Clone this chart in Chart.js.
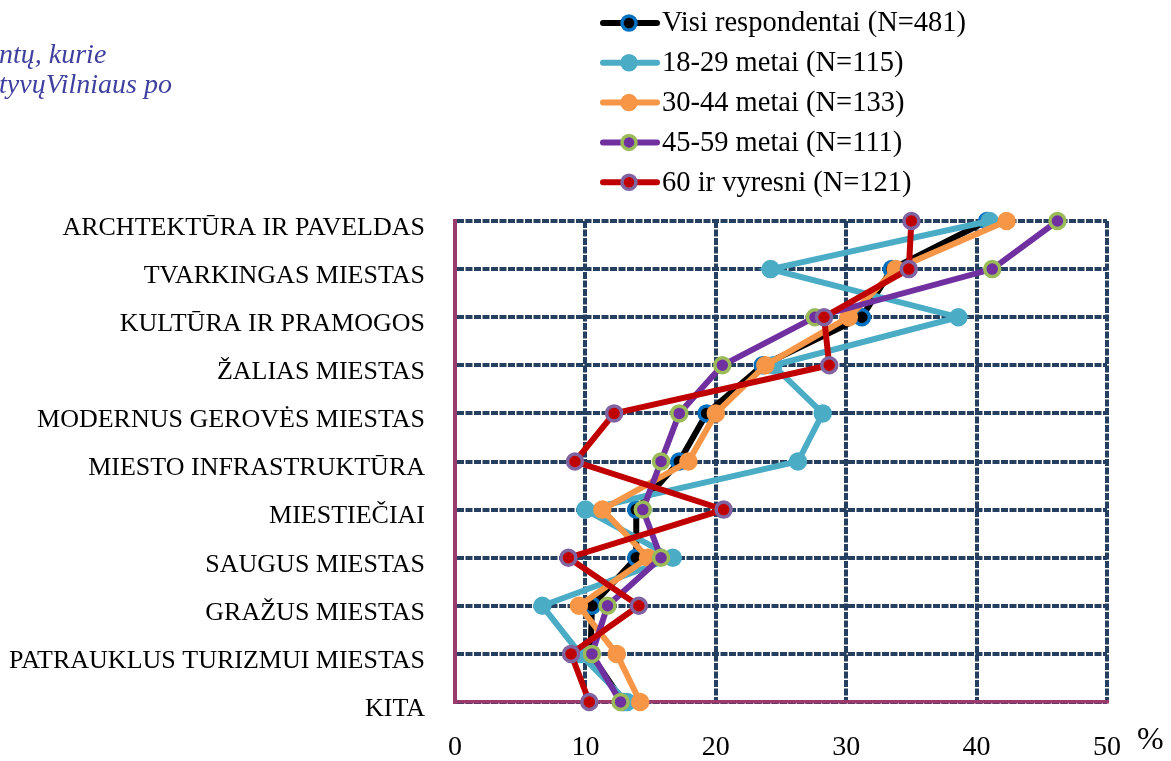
<!DOCTYPE html>
<html>
<head>
<meta charset="utf-8">
<script src="https://cdn.jsdelivr.net/npm/chart.js@4.4.1/dist/chart.umd.min.js"></script>
<style>
    html, body { margin: 0; padding: 0; background: #ffffff; }
    #wrap { width: 1171px; height: 761px; position: relative; overflow: hidden; }
</style>
</head>
<body>
<div id="wrap"><canvas id="chart" width="1171" height="761"></canvas></div>
<script>
// Categories (top to bottom)
const categories = [
    'ARCHTEKTŪRA IR PAVELDAS',
    'TVARKINGAS MIESTAS',
    'KULTŪRA IR PRAMOGOS',
    'ŽALIAS MIESTAS',
    'MODERNUS GEROVĖS MIESTAS',
    'MIESTO INFRASTRUKTŪRA',
    'MIESTIEČIAI',
    'SAUGUS MIESTAS',
    'GRAŽUS MIESTAS',
    'PATRAUKLUS TURIZMUI MIESTAS',
    'KITA'
];

// Series values (%)
const visi = [40.8, 33.5, 31.2, 23.6, 19.3, 17.2, 13.9, 13.9, 10.5, 10.4, 12.9];
const age18to29 = [41.0, 24.2, 38.6, 24.4, 28.2, 26.3, 10.0, 16.7, 6.7, 9.6, 13.2];
const age30to44 = [42.3, 33.8, 30.2, 23.8, 20.0, 17.9, 11.3, 14.8, 9.5, 12.4, 14.2];
const age45to59 = [46.2, 41.2, 27.6, 20.5, 17.2, 15.8, 14.4, 15.8, 11.7, 10.5, 12.7];
const age60plus = [35.0, 34.8, 28.3, 28.7, 12.2, 9.2, 20.6, 8.7, 14.1, 8.9, 10.3];

// Series labels
const seriesLabels = [
    'Visi respondentai (N=481)',
    '18-29 metai (N=115)',
    '30-44 metai (N=133)',
    '45-59 metai (N=111)',
    '60 ir vyresni (N=121)'
];

// X axis ticks
const xTicks = [0, 10, 20, 30, 40, 50];

const serif = '"Liberation Serif", "DejaVu Serif", serif';
Chart.defaults.font.family = serif;
Chart.defaults.color = '#000000';

function makeSet(label, data, line, fill, ring, order) {
    return {
        label: label,
        data: data,
        borderColor: line,
        backgroundColor: fill,
        borderWidth: 6,
        pointRadius: 7.5,
        pointHoverRadius: 7.5,
        pointBackgroundColor: fill,
        pointBorderColor: ring,
        pointBorderWidth: 3.5,
        tension: 0,
        clip: false,
        order: order
    };
}

const datasets = [
    makeSet(seriesLabels[0], visi, '#000000', '#000000', '#0070C0', 5),
    makeSet(seriesLabels[1], age18to29, '#4BACC6', '#4BACC6', '#4BACC6', 4),
    makeSet(seriesLabels[2], age30to44, '#F79646', '#F79646', '#F79646', 3),
    makeSet(seriesLabels[3], age45to59, '#7030A0', '#7030A0', '#9BBB59', 2),
    makeSet(seriesLabels[4], age60plus, '#C00000', '#C00000', '#8064A2', 1)
];

// Custom legend, "%" unit and the cut-off heading text
const extras = {
    id: 'extras',
    afterDraw(chart) {
        const ctx = chart.ctx;
        ctx.save();

        // legend
        ctx.font = '28.5px ' + serif;
        ctx.textBaseline = 'middle';
        chart.data.datasets.forEach((ds, i) => {
            const y = 23 + i * 39.8;
            ctx.beginPath();
            ctx.moveTo(603, y);
            ctx.lineTo(657, y);
            ctx.strokeStyle = ds.borderColor;
            ctx.lineWidth = 6;
            ctx.lineCap = 'round';
            ctx.stroke();
            ctx.beginPath();
            ctx.arc(629, y, 7, 0, Math.PI * 2);
            ctx.fillStyle = ds.pointBackgroundColor;
            ctx.fill();
            ctx.lineWidth = 3.5;
            ctx.strokeStyle = ds.pointBorderColor;
            ctx.stroke();
            ctx.fillStyle = '#000000';
            ctx.fillText(ds.label, 662, y + 1);
        });

        // unit
        ctx.font = '32px ' + serif;
        ctx.textAlign = 'left';
        ctx.fillText('%', 1137, 741);

        // heading fragment at the left edge
        ctx.font = 'italic 28px ' + serif;
        ctx.fillStyle = '#3F3FA0';
        ctx.textBaseline = 'alphabetic';
        ctx.fillText('ntų, kurie', -1, 63);
        ctx.fillText('tyvųVilniaus po', -1, 93);
        ctx.restore();
    }
};

new Chart(document.getElementById('chart'), {
    type: 'line',
    data: {
        labels: categories,
        datasets: datasets
    },
    options: {
        indexAxis: 'y',
        responsive: false,
        animation: false,
        devicePixelRatio: 1,
        layout: {
            padding: { left: 0, top: 221, right: 64, bottom: 0 }
        },
        plugins: {
            legend: { display: false },
            tooltip: { enabled: false }
        },
        scales: {
            x: {
                type: 'linear',
                min: 0,
                max: 50,
                afterBuildTicks: function(scale) {
                    scale.ticks = xTicks.map(v => ({ value: v }));
                },
                afterFit: function(scale) {
                    scale.height = 59;
                },
                grid: {
                    color: '#243F60',
                    lineWidth: 4,
                    drawTicks: false
                },
                border: {
                    display: true,
                    color: '#9B3A6C',
                    width: 3.5,
                    dash: [7, 1.5]
                },
                ticks: {
                    padding: 29,
                    font: { size: 28 },
                    color: '#000000'
                }
            },
            y: {
                type: 'category',
                offset: false,
                afterFit: function(scale) {
                    scale.width = 455;
                },
                grid: {
                    color: '#243F60',
                    lineWidth: 4,
                    drawTicks: false
                },
                border: {
                    display: true,
                    color: '#9B3A6C',
                    width: 4,
                    dash: [7, 1.5]
                },
                ticks: {
                    padding: 30,
                    labelOffset: 7,
                    autoSkip: false,
                    font: { size: 26 },
                    color: '#000000'
                }
            }
        }
    },
    plugins: [extras]
});
</script>
</body>
</html>
